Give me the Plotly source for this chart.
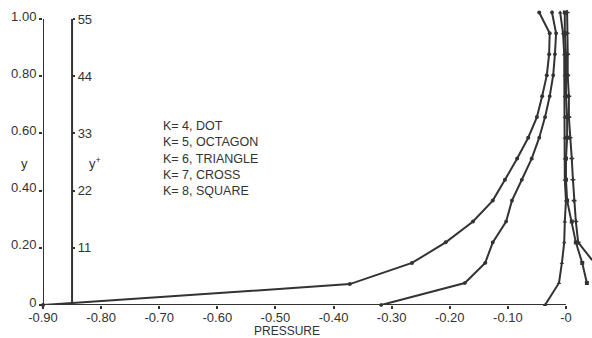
import plotly.graph_objects as go

# ---- data (pressure, y) ----
k4_p = [-0.900, -0.372, -0.265, -0.207, -0.160, -0.126, -0.105, -0.084, -0.065, -0.050, -0.041, -0.033, -0.029, -0.028, -0.046]
k4_y = [0.0, 0.073, 0.147, 0.219, 0.292, 0.365, 0.438, 0.512, 0.585, 0.657, 0.730, 0.803, 0.877, 0.950, 1.023]

k5_p = [-0.318, -0.174, -0.139, -0.126, -0.103, -0.093, -0.076, -0.059, -0.046, -0.036, -0.028, -0.022, -0.019, -0.017, -0.024]
k5_y = [0.0, 0.077, 0.147, 0.219, 0.292, 0.365, 0.438, 0.512, 0.585, 0.657, 0.730, 0.803, 0.877, 0.950, 1.023]

k6_p = [-0.036, -0.012, -0.007, -0.003, -0.002, 0.000, -0.002, -0.002, -0.002, -0.002, -0.002, -0.002, -0.003, -0.005, -0.010]
k6_y = [0.0, 0.077, 0.147, 0.219, 0.292, 0.365, 0.438, 0.512, 0.585, 0.657, 0.730, 0.803, 0.877, 0.950, 1.023]

k7_p = [0.045, 0.021, 0.017, 0.014, 0.012, 0.010, 0.007, 0.005, 0.005, 0.003, 0.003, 0.002, 0.002]
k7_y = [0.157, 0.219, 0.292, 0.365, 0.438, 0.512, 0.585, 0.657, 0.730, 0.803, 0.877, 0.950, 1.023]

k8_p = [0.036, 0.028, 0.017, 0.010, 0.002, 0.000, 0.000, 0.002, 0.002, 0.000, 0.000, 0.000, -0.002, -0.002]
k8_y = [0.077, 0.147, 0.219, 0.292, 0.365, 0.438, 0.512, 0.585, 0.657, 0.730, 0.803, 0.877, 0.950, 1.023]

x_ticks = [-0.90, -0.80, -0.70, -0.60, -0.50, -0.40, -0.30, -0.20, -0.10, 0.0]
x_labels = ["-0.90", "-0.80", "-0.70", "-0.60", "-0.50", "-0.40", "-0.30", "-0.20", "-0.10", "-0"]
y_ticks = [0, 0.2, 0.4, 0.6, 0.8, 1.0]
y_labels = ["0", "0.20", "0.40", "0.60", "0.80", "1.00"]
yplus_ticks = [11, 22, 33, 44, 55]
yplus_labels = ["11", "22", "33", "44", "55"]
yplus_axis_x = -0.85

legend_lines = ["K= 4, DOT", "K= 5, OCTAGON", "K= 6, TRIANGLE", "K= 7, CROSS", "K= 8, SQUARE"]

INK = "#333333"
FONT = "Liberation Sans"

fig = go.Figure()
series = [(k4_p, k4_y, "circle"), (k5_p, k5_y, "octagon"), (k6_p, k6_y, "triangle-up"),
          (k7_p, k7_y, "cross"), (k8_p, k8_y, "square")]
for p, y, sym in series:
    fig.add_trace(go.Scatter(x=p, y=y, mode="lines+markers",
                             line=dict(color=INK, width=2),
                             marker=dict(symbol=sym, size=4, color=INK),
                             cliponaxis=False, showlegend=False))

xmin, xmax = -0.90, 0.0448
ymax = 1.049

tickfont = dict(size=13, family=FONT, color=INK)
fig.update_layout(
    width=592, height=338,
    margin=dict(l=43, r=0, t=5, b=33, autoexpand=False),
    paper_bgcolor="white", plot_bgcolor="white",
    font=dict(family=FONT, size=12, color=INK),
    xaxis=dict(range=[xmin, xmax], tickvals=x_ticks, ticktext=x_labels, automargin=False,
               showgrid=False, zeroline=False, showline=False, ticklabelstandoff=-3,
               ticks="outside", ticklen=3, tickwidth=1.5, tickcolor=INK, tickfont=tickfont),
    yaxis=dict(range=[0, ymax], tickvals=y_ticks, ticktext=y_labels, automargin=False,
               showgrid=False, zeroline=False, showline=False, ticklabelshift=-3,
               ticks="outside", ticklen=3, tickwidth=1.5, tickcolor=INK, tickfont=tickfont),
    yaxis2=dict(range=[0, 55 * ymax], overlaying="y", anchor="free", automargin=False,
                position=(yplus_axis_x - xmin) / (xmax - xmin), side="right",
                tickvals=yplus_ticks, ticktext=yplus_labels,
                showgrid=False, zeroline=False, showline=False,
                ticks="outside", ticklen=2, tickwidth=1.5, tickcolor=INK, tickfont=tickfont),
)
# transparent trace so the y+ axis is drawn
fig.add_trace(go.Scatter(x=[yplus_axis_x], y=[0], yaxis="y2", mode="markers",
                         marker=dict(opacity=0), showlegend=False, hoverinfo="skip"))

# axis lines (x axis ends at 0; vertical axes end at 1.00)
fig.add_shape(type="line", x0=min(x_ticks), x1=max(x_ticks), y0=0, y1=0,
              xref="x", yref="y", line=dict(color=INK, width=2))
fig.add_shape(type="line", x0=xmin, x1=xmin, y0=0, y1=max(y_ticks),
              xref="x", yref="y", line=dict(color=INK, width=2))
fig.add_shape(type="line", x0=yplus_axis_x, x1=yplus_axis_x, y0=0, y1=max(y_ticks),
              xref="x", yref="y", line=dict(color=INK, width=2))

label_y = (305 - 163) / 286
fig.add_annotation(text="y", x=-0.033, xref="paper", y=label_y, yref="y", showarrow=False,
                   xanchor="center", font=dict(size=13, family=FONT, color=INK))
fig.add_annotation(text="y<sup>+</sup>", x=0.094, xref="paper", y=label_y, yref="y",
                   showarrow=False, xanchor="center", font=dict(size=13, family=FONT, color=INK))
fig.add_annotation(text="PRESSURE", x=-0.48, xref="x", y=-0.087, yref="paper",
                   showarrow=False, xanchor="center", yanchor="middle",
                   font=dict(size=12, family=FONT, color=INK))
fig.add_annotation(text="<br>".join(legend_lines), x=-0.697, xref="x", y=(305 - 117) / 286, yref="y",
                   showarrow=False, xanchor="left", yanchor="top", align="left",
                   font=dict(size=12.5, family=FONT, color=INK))

fig.write_html("out.html", config={"displayModeBar": False},
               post_script="document.body.style.margin='0';")
